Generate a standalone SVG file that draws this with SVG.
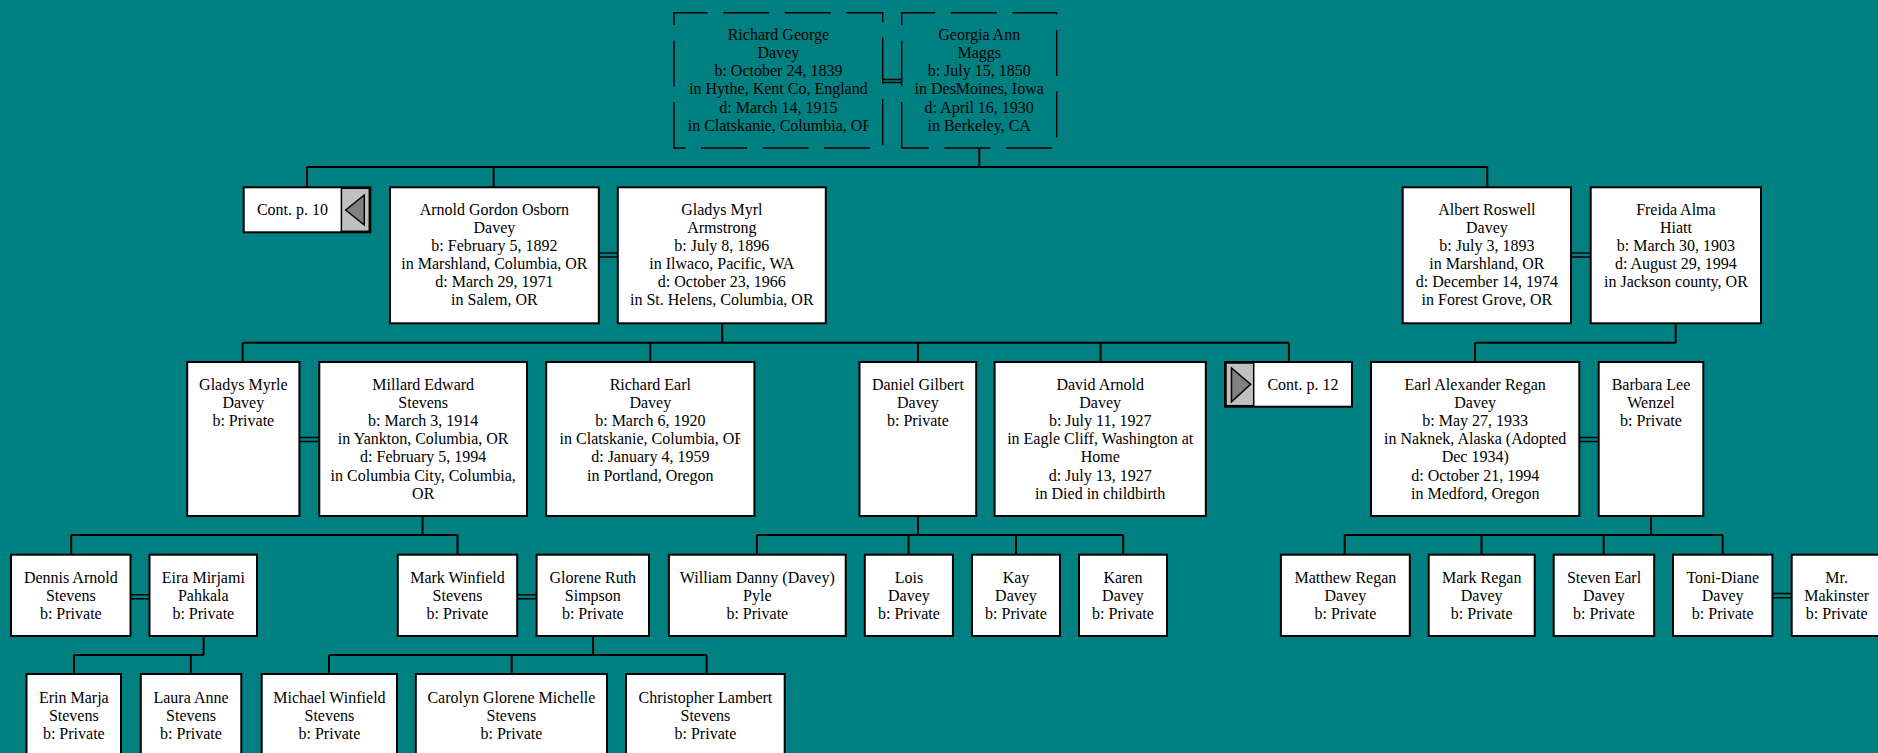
<svg xmlns="http://www.w3.org/2000/svg" width="1878" height="753" viewBox="0 0 1878 753">
<style>
.box{fill:#fff;stroke:#000;stroke-width:2}
.dbox{fill:none;stroke:#000;stroke-width:1.4;stroke-dasharray:46 15.5}
.ln{fill:none;stroke:#000;stroke-width:2}
.dl{fill:none;stroke:#000;stroke-width:1.4}
.gray{fill:#c0c0c0;stroke:#000;stroke-width:1.5}
.tri{fill:#808080;stroke:#000;stroke-width:1.5}
text{font-family:"Liberation Serif","Times New Roman",serif;font-size:16px;fill:#000;text-anchor:middle}
text.l{text-anchor:start}
</style>
<defs>
<clipPath id="c1"><rect x="687.7" y="0" width="180.6" height="160"/></clipPath>
<clipPath id="c2"><rect x="559.6" y="360" width="180.6" height="160"/></clipPath>
</defs>
<rect width="1878" height="753" fill="#008080"/>

<g id="connectors">
<path class="dl" d="M882.7,79.5H901.7M882.7,82.5H901.7M598.8,253H617.8M598.8,257H617.8M1571,253H1590.7M1571,257H1590.7M299.4,437.5H319.3M299.4,441.5H319.3M1579.3,437.5H1598.7M1579.3,441.5H1598.7M130.5,594.7H149.5M130.5,598.7H149.5M517.2,594.7H536.6M517.2,598.7H536.6M1772.4,593.5H1791.7M1772.4,597.7H1791.7"/>
<path class="ln" d="M979.3,148V167M307,167H1487.3M307,167V187.3M493.6,167V187.3M1487.3,167V187.3
M722.2,323.3V342.7M242.7,342.7H1288.9M242.7,342.7V362M650.3,342.7V362M918,342.7V362M1100.6,342.7V362M1288.9,342.7V362
M1675.7,323.3V342.7M1475,342.7H1675.7M1475,342.7V362
M422.6,516V535M71.2,535H457.5M71.2,535V554.7M457.5,535V554.7
M918,516V535M756.9,535H1123.2M756.9,535V554.7M908.5,535V554.7M1016,535V554.7M1123.2,535V554.7
M1651,516V535M1344.7,535H1722.7M1344.7,535V554.7M1481.5,535V554.7M1603.7,535V554.7M1722.7,535V554.7
M203.6,636V655M74,655H203.6M74,655V674M190.8,655V674
M593.1,636V655M329,655H706.6M329,655V674M511.7,655V674M706.6,655V674"/>
</g>

<g id="n-richard-george">
<path class="dbox" d="M674,148V12.7H882.7V148Z"/>
<text x="778.4" y="39.5">Richard George</text>
<text x="778.4" y="57.75">Davey</text>
<text x="778.4" y="76">b: October 24, 1839</text>
<text x="778.4" y="94.25">in Hythe, Kent Co, England</text>
<text x="778.4" y="112.5">d: March 14, 1915</text>
<text class="l" x="687.7" y="130.75" clip-path="url(#c1)">in Clatskanie, Columbia, OR</text>
</g>
<g id="n-georgia-ann">
<path class="dbox" d="M901.7,148V12.7H1056.7V148Z"/>
<text x="979.2" y="39.5">Georgia Ann</text>
<text x="979.2" y="57.75">Maggs</text>
<text x="979.2" y="76">b: July 15, 1850</text>
<text x="979.2" y="94.25">in DesMoines, Iowa</text>
<text x="979.2" y="112.5">d: April 16, 1930</text>
<text x="979.2" y="130.75">in Berkeley, CA</text>
</g>

<g id="n-cont-10">
<rect class="box" x="243.7" y="187.3" width="126.6" height="45"/>
<rect class="gray" x="341.4" y="188.3" width="27.9" height="43"/>
<polygon class="tri" points="345.7,210 364.3,195 364.3,225"/>
<text x="292.5" y="215">Cont. p. 10</text>
</g>
<g id="n-arnold">
<rect class="box" x="390" y="187.3" width="208.8" height="136"/>
<text x="494.4" y="214.8">Arnold Gordon Osborn</text>
<text x="494.4" y="232.9">Davey</text>
<text x="494.4" y="251">b: February 5, 1892</text>
<text x="494.4" y="269.1">in Marshland, Columbia, OR</text>
<text x="494.4" y="287.2">d: March 29, 1971</text>
<text x="494.4" y="305.3">in Salem, OR</text>
</g>
<g id="n-gladys-myrl">
<rect class="box" x="617.8" y="187.3" width="208" height="136"/>
<text x="721.8" y="214.8">Gladys Myrl</text>
<text x="721.8" y="232.9">Armstrong</text>
<text x="721.8" y="251">b: July 8, 1896</text>
<text x="721.8" y="269.1">in Ilwaco, Pacific, WA</text>
<text x="721.8" y="287.2">d: October 23, 1966</text>
<text x="721.8" y="305.3">in St. Helens, Columbia, OR</text>
</g>
<g id="n-albert">
<rect class="box" x="1402.7" y="187.3" width="168.3" height="136"/>
<text x="1486.9" y="214.8">Albert Roswell</text>
<text x="1486.9" y="232.9">Davey</text>
<text x="1486.9" y="251">b: July 3, 1893</text>
<text x="1486.9" y="269.1">in Marshland, OR</text>
<text x="1486.9" y="287.2">d: December 14, 1974</text>
<text x="1486.9" y="305.3">in Forest Grove, OR</text>
</g>
<g id="n-freida">
<rect class="box" x="1590.7" y="187.3" width="170.3" height="136"/>
<text x="1675.9" y="214.8">Freida Alma</text>
<text x="1675.9" y="232.9">Hiatt</text>
<text x="1675.9" y="251">b: March 30, 1903</text>
<text x="1675.9" y="269.1">d: August 29, 1994</text>
<text x="1675.9" y="287.2">in Jackson county, OR</text>
</g>

<g id="n-gladys-myrle">
<rect class="box" x="187.2" y="362" width="112.2" height="154"/>
<text x="243.3" y="390">Gladys Myrle</text>
<text x="243.3" y="408.1">Davey</text>
<text x="243.3" y="426.2">b: Private</text>
</g>
<g id="n-millard">
<rect class="box" x="319.3" y="362" width="207.7" height="154"/>
<text x="423.2" y="390">Millard Edward</text>
<text x="423.2" y="408.1">Stevens</text>
<text x="423.2" y="426.2">b: March 3, 1914</text>
<text x="423.2" y="444.3">in Yankton, Columbia, OR</text>
<text x="423.2" y="462.4">d: February 5, 1994</text>
<text x="423.2" y="480.5">in Columbia City, Columbia,</text>
<text x="423.2" y="498.6">OR</text>
</g>
<g id="n-richard-earl">
<rect class="box" x="546.2" y="362" width="208.2" height="154"/>
<text x="650.3" y="390">Richard Earl</text>
<text x="650.3" y="408.1">Davey</text>
<text x="650.3" y="426.2">b: March 6, 1920</text>
<text class="l" x="559.6" y="444.3" clip-path="url(#c2)">in Clatskanie, Columbia, OR</text>
<text x="650.3" y="462.4">d: January 4, 1959</text>
<text x="650.3" y="480.5">in Portland, Oregon</text>
</g>
<g id="n-daniel">
<rect class="box" x="859.5" y="362" width="116.7" height="154"/>
<text x="917.9" y="390">Daniel Gilbert</text>
<text x="917.9" y="408.1">Davey</text>
<text x="917.9" y="426.2">b: Private</text>
</g>
<g id="n-david">
<rect class="box" x="994.6" y="362" width="211.2" height="154"/>
<text x="1100.2" y="390">David Arnold</text>
<text x="1100.2" y="408.1">Davey</text>
<text x="1100.2" y="426.2">b: July 11, 1927</text>
<text x="1100.2" y="444.3">in Eagle Cliff, Washington at</text>
<text x="1100.2" y="462.4">Home</text>
<text x="1100.2" y="480.5">d: July 13, 1927</text>
<text x="1100.2" y="498.6">in Died in childbirth</text>
</g>
<g id="n-cont-12">
<rect class="box" x="1225" y="362" width="127" height="44.7"/>
<rect class="gray" x="1226" y="363" width="27.7" height="42.7"/>
<polygon class="tri" points="1231.5,368 1250.6,384.3 1231.5,401.7"/>
<text x="1303" y="390">Cont. p. 12</text>
</g>
<g id="n-earl">
<rect class="box" x="1371" y="362" width="208.3" height="154"/>
<text x="1475.2" y="390">Earl Alexander Regan</text>
<text x="1475.2" y="408.1">Davey</text>
<text x="1475.2" y="426.2">b: May 27, 1933</text>
<text x="1475.2" y="444.3">in Naknek, Alaska (Adopted</text>
<text x="1475.2" y="462.4">Dec 1934)</text>
<text x="1475.2" y="480.5">d: October 21, 1994</text>
<text x="1475.2" y="498.6">in Medford, Oregon</text>
</g>
<g id="n-barbara">
<rect class="box" x="1598.7" y="362" width="104.6" height="154"/>
<text x="1651" y="390">Barbara Lee</text>
<text x="1651" y="408.1">Wenzel</text>
<text x="1651" y="426.2">b: Private</text>
</g>

<g id="n-dennis">
<rect class="box" x="11" y="554.7" width="119.5" height="81.3"/>
<text x="70.8" y="582.7">Dennis Arnold</text>
<text x="70.8" y="600.9">Stevens</text>
<text x="70.8" y="619.1">b: Private</text>
</g>
<g id="n-eira">
<rect class="box" x="149.5" y="554.7" width="107.5" height="81.3"/>
<text x="203.3" y="582.7">Eira Mirjami</text>
<text x="203.3" y="600.9">Pahkala</text>
<text x="203.3" y="619.1">b: Private</text>
</g>
<g id="n-mark-winfield">
<rect class="box" x="397.8" y="554.7" width="119.4" height="81.3"/>
<text x="457.5" y="582.7">Mark Winfield</text>
<text x="457.5" y="600.9">Stevens</text>
<text x="457.5" y="619.1">b: Private</text>
</g>
<g id="n-glorene">
<rect class="box" x="536.6" y="554.7" width="112.4" height="81.3"/>
<text x="592.8" y="582.7">Glorene Ruth</text>
<text x="592.8" y="600.9">Simpson</text>
<text x="592.8" y="619.1">b: Private</text>
</g>
<g id="n-william">
<rect class="box" x="668.9" y="554.7" width="176.8" height="81.3"/>
<text x="757.3" y="582.7">William Danny (Davey)</text>
<text x="757.3" y="600.9">Pyle</text>
<text x="757.3" y="619.1">b: Private</text>
</g>
<g id="n-lois">
<rect class="box" x="864.8" y="554.7" width="88.1" height="81.3"/>
<text x="908.9" y="582.7">Lois</text>
<text x="908.9" y="600.9">Davey</text>
<text x="908.9" y="619.1">b: Private</text>
</g>
<g id="n-kay">
<rect class="box" x="972" y="554.7" width="88" height="81.3"/>
<text x="1016" y="582.7">Kay</text>
<text x="1016" y="600.9">Davey</text>
<text x="1016" y="619.1">b: Private</text>
</g>
<g id="n-karen">
<rect class="box" x="1079" y="554.7" width="88" height="81.3"/>
<text x="1123" y="582.7">Karen</text>
<text x="1123" y="600.9">Davey</text>
<text x="1123" y="619.1">b: Private</text>
</g>
<g id="n-matthew">
<rect class="box" x="1280.9" y="554.7" width="128.9" height="81.3"/>
<text x="1345.4" y="582.7">Matthew Regan</text>
<text x="1345.4" y="600.9">Davey</text>
<text x="1345.4" y="619.1">b: Private</text>
</g>
<g id="n-mark-regan">
<rect class="box" x="1428.7" y="554.7" width="106" height="81.3"/>
<text x="1481.7" y="582.7">Mark Regan</text>
<text x="1481.7" y="600.9">Davey</text>
<text x="1481.7" y="619.1">b: Private</text>
</g>
<g id="n-steven">
<rect class="box" x="1553.7" y="554.7" width="100.5" height="81.3"/>
<text x="1604" y="582.7">Steven Earl</text>
<text x="1604" y="600.9">Davey</text>
<text x="1604" y="619.1">b: Private</text>
</g>
<g id="n-toni">
<rect class="box" x="1673" y="554.7" width="99.4" height="81.3"/>
<text x="1722.7" y="582.7">Toni-Diane</text>
<text x="1722.7" y="600.9">Davey</text>
<text x="1722.7" y="619.1">b: Private</text>
</g>
<g id="n-makinster">
<rect class="box" x="1791.7" y="554.7" width="90" height="81.3"/>
<text x="1836.7" y="582.7">Mr.</text>
<text x="1836.7" y="600.9">Makinster</text>
<text x="1836.7" y="619.1">b: Private</text>
</g>

<g id="n-erin">
<rect class="box" x="26.5" y="674" width="94.5" height="82"/>
<text x="73.8" y="702.5">Erin Marja</text>
<text x="73.8" y="720.7">Stevens</text>
<text x="73.8" y="738.9">b: Private</text>
</g>
<g id="n-laura">
<rect class="box" x="140.8" y="674" width="100.5" height="82"/>
<text x="191" y="702.5">Laura Anne</text>
<text x="191" y="720.7">Stevens</text>
<text x="191" y="738.9">b: Private</text>
</g>
<g id="n-michael">
<rect class="box" x="261.7" y="674" width="135.3" height="82"/>
<text x="329.4" y="702.5">Michael Winfield</text>
<text x="329.4" y="720.7">Stevens</text>
<text x="329.4" y="738.9">b: Private</text>
</g>
<g id="n-carolyn">
<rect class="box" x="415.8" y="674" width="191.2" height="82"/>
<text x="511.4" y="702.5">Carolyn Glorene Michelle</text>
<text x="511.4" y="720.7">Stevens</text>
<text x="511.4" y="738.9">b: Private</text>
</g>
<g id="n-christopher">
<rect class="box" x="626" y="674" width="158.7" height="82"/>
<text x="705.4" y="702.5">Christopher Lambert</text>
<text x="705.4" y="720.7">Stevens</text>
<text x="705.4" y="738.9">b: Private</text>
</g>
</svg>
